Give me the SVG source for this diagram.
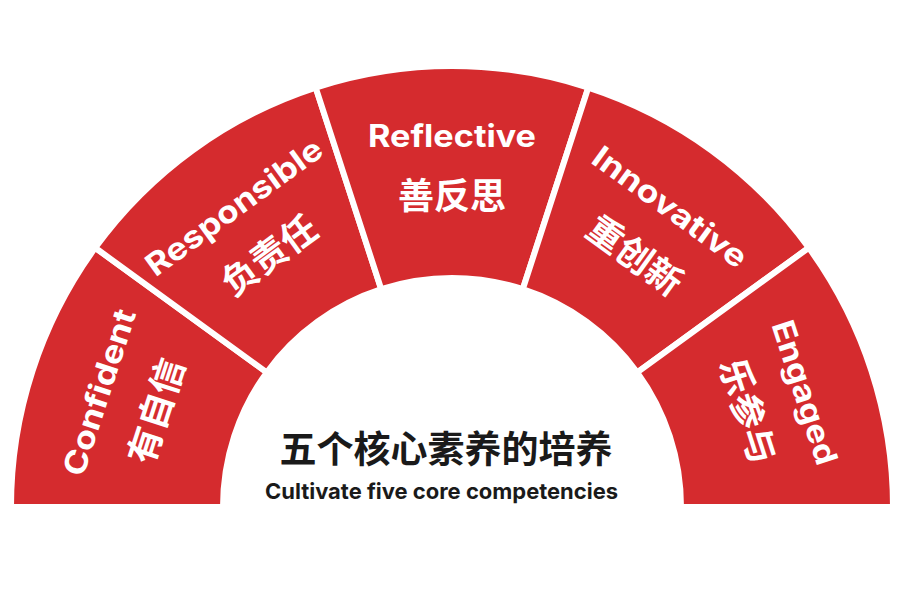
<svg xmlns="http://www.w3.org/2000/svg" width="921" height="595" viewBox="0 0 921 595">
<style>
.seg{fill:#d52b2e;stroke:#ffffff;stroke-width:6;stroke-linejoin:miter}
.en{font-family:Inter,"Liberation Sans",sans-serif;font-weight:700;font-size:31px;fill:#ffffff;text-anchor:middle}
.zh{font-family:"Noto Sans CJK SC",sans-serif;font-weight:700;font-size:36px;fill:#ffffff;text-anchor:middle}
.title{font-family:"Noto Sans CJK SC",sans-serif;font-weight:700;font-size:37px;fill:#1a1a1a;text-anchor:middle}
.sub{font-family:Inter,"Liberation Sans",sans-serif;font-weight:700;font-size:22px;fill:#1a1a1a;text-anchor:middle}
</style>
<rect width="921" height="595" fill="#ffffff"/>
<g id="connectors"></g>
<g id="confident">
<path class="seg" d="M 95.22 247.79 A 441 441 0 0 0 11 507 L 223 507 A 229 229 0 0 1 266.73 372.40 Z"/>
<g transform="translate(452,507) rotate(-72)">
<text class="en" x="0" y="-360" textLength="173" lengthAdjust="spacingAndGlyphs">Confident</text>
<text class="zh" x="0" y="-298">有自信</text>
</g>
</g>
<g id="responsible">
<path class="seg" d="M 315.72 87.58 A 441 441 0 0 0 95.22 247.79 L 266.73 372.40 A 229 229 0 0 1 381.23 289.21 Z"/>
<g transform="translate(452,507) rotate(-36)">
<text class="en" x="0" y="-360" textLength="210" lengthAdjust="spacingAndGlyphs">Responsible</text>
<text class="zh" x="0" y="-298">负责任</text>
</g>
</g>
<g id="reflective">
<path class="seg" d="M 588.28 87.58 A 441 441 0 0 0 315.72 87.58 L 381.23 289.21 A 229 229 0 0 1 522.77 289.21 Z"/>
<g transform="translate(452,507)">
<text class="en" x="0" y="-360" textLength="168" lengthAdjust="spacingAndGlyphs">Reflective</text>
<text class="zh" x="0" y="-298">善反思</text>
</g>
</g>
<g id="innovative">
<path class="seg" d="M 808.78 247.79 A 441 441 0 0 0 588.28 87.58 L 522.77 289.21 A 229 229 0 0 1 637.27 372.40 Z"/>
<g transform="translate(452,507) rotate(36)">
<text class="en" x="0" y="-360" textLength="183" lengthAdjust="spacingAndGlyphs">Innovative</text>
<text class="zh" x="0" y="-298">重创新</text>
</g>
</g>
<g id="engaged">
<path class="seg" d="M 893 507 A 441 441 0 0 0 808.78 247.79 L 637.27 372.40 A 229 229 0 0 1 681 507 Z"/>
<g transform="translate(452,507) rotate(72)">
<text class="en" x="0" y="-360" textLength="150" lengthAdjust="spacingAndGlyphs">Engaged</text>
<text class="zh" x="0" y="-298">乐参与</text>
</g>
</g>
<g id="center-title">
<text class="title" x="446" y="463">五个核心素养的培养</text>
<text class="sub" x="441.5" y="499" textLength="353" lengthAdjust="spacingAndGlyphs">Cultivate five core competencies</text>
</g>
</svg>
